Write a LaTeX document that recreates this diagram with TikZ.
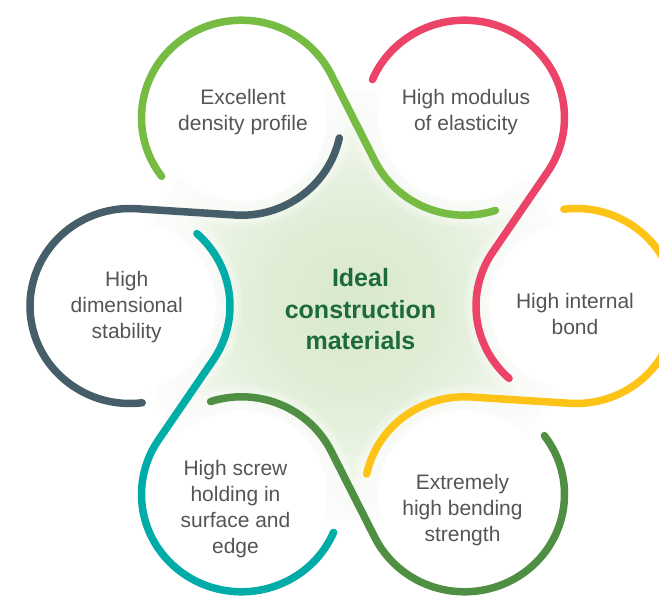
\documentclass[tikz,border=0pt]{standalone}
\usepackage{fontspec}
\setmainfont{Liberation Sans}
\usetikzlibrary{calc}
\definecolor{cgreen}{HTML}{76BC43}
\definecolor{cred}{HTML}{EC4468}
\definecolor{cyellow}{HTML}{FDC317}
\definecolor{cdkgreen}{HTML}{4F8F43}
\definecolor{cteal}{HTML}{00ACA8}
\definecolor{cslate}{HTML}{465E69}
\definecolor{ctext}{HTML}{555555}
\definecolor{ctitle}{HTML}{1D6B38}
\definecolor{cglow}{HTML}{DAEACE}
\newcommand\mlines[1]{\begin{tabular}[t]{@{}c@{}}#1\end{tabular}}
\tikzset{
  petal/.style={line width=7.5pt, line cap=round},
  lbl/.style={text=ctext, font=\fontsize{21}{26}\selectfont, anchor=base, inner sep=0pt},
  ttl/.style={text=ctitle, font=\bfseries\fontsize{25}{31.5}\selectfont, anchor=base, inner sep=0pt}
}
\begin{document}
\begin{tikzpicture}[x=1pt,y=1pt]
\path[use as bounding box] (-353,-293) rectangle (306,306);
\clip (-353,-293) rectangle (306,306);
\fill[white] (-353,-293) rectangle (306,306);
\coordinate (C) at (0,0);
% soft green glow built from concentric discs
\foreach \i in {0,...,44}{
  \pgfmathsetmacro\rr{225-5*\i}
  \pgfmathtruncatemacro\pp{100*(1-(\rr/225)^2)}
  \fill[cglow!\pp!white] (C) circle (\rr);
}
\begin{scope}[yscale=0.975]
  \coordinate (P1) at (120:223);
  \coordinate (P2) at (60:223);
  \coordinate (P3) at (0:223);
  \coordinate (P4) at (-60:223);
  \coordinate (P5) at (-120:223);
  \coordinate (P6) at (180:223);
  % white petal interiors with soft edges
  \foreach \k in {1,...,6}{
    \fill[white] (P\k) circle (86);
    \foreach \rr in {88,92,...,112}{
      \fill[white, opacity=0.22] (P\k) circle (\rr);
    }
  }
  \draw[petal, cgreen] ($(P1)+(217:100)$) arc[start angle=217, end angle=26.24, radius=100]
     -- ($(P2)+(206.24:100)$) arc[start angle=206.24, end angle=288, radius=100];
  \draw[petal, cred] ($(P2)+(157:100)$) arc[start angle=157, end angle=-33.76, radius=100]
     -- ($(P3)+(146.24:100)$) arc[start angle=146.24, end angle=228, radius=100];
  \draw[petal, cyellow] ($(P3)+(97:100)$) arc[start angle=97, end angle=-93.76, radius=100]
     -- ($(P4)+(86.24:100)$) arc[start angle=86.24, end angle=168, radius=100];
  \draw[petal, cdkgreen] ($(P4)+(37:100)$) arc[start angle=37, end angle=-153.76, radius=100]
     -- ($(P5)+(26.24:100)$) arc[start angle=26.24, end angle=108, radius=100];
  \draw[petal, cteal] ($(P5)+(-23:100)$) arc[start angle=-23, end angle=-213.76, radius=100]
     -- ($(P6)+(-33.76:100)$) arc[start angle=-33.76, end angle=48, radius=100];
  \draw[petal, cslate] ($(P6)+(277:100)$) arc[start angle=277, end angle=86.24, radius=100]
     -- ($(P1)+(266.24:100)$) arc[start angle=266.24, end angle=348, radius=100];
\end{scope}
\node[ttl] (title) at (7.5,19.3) {\mlines{Ideal\\construction\\materials}};
\node[lbl] (t1) at (-110,201) {\mlines{Excellent\\density profile}};
\node[lbl] (t2) at (113,201) {\mlines{High modulus\\of elasticity}};
\node[lbl] (t3) at (222,-3) {\mlines{High internal\\bond}};
\node[lbl] (t4) at (109.5,-184) {\mlines{Extremely\\high bending\\strength}};
\node[lbl] (t5) at (-117.5,-170) {\mlines{High screw\\holding in\\surface and\\edge}};
\node[lbl] (t6) at (-226.3,19) {\mlines{High\\dimensional\\stability}};
\end{tikzpicture}
\end{document}
